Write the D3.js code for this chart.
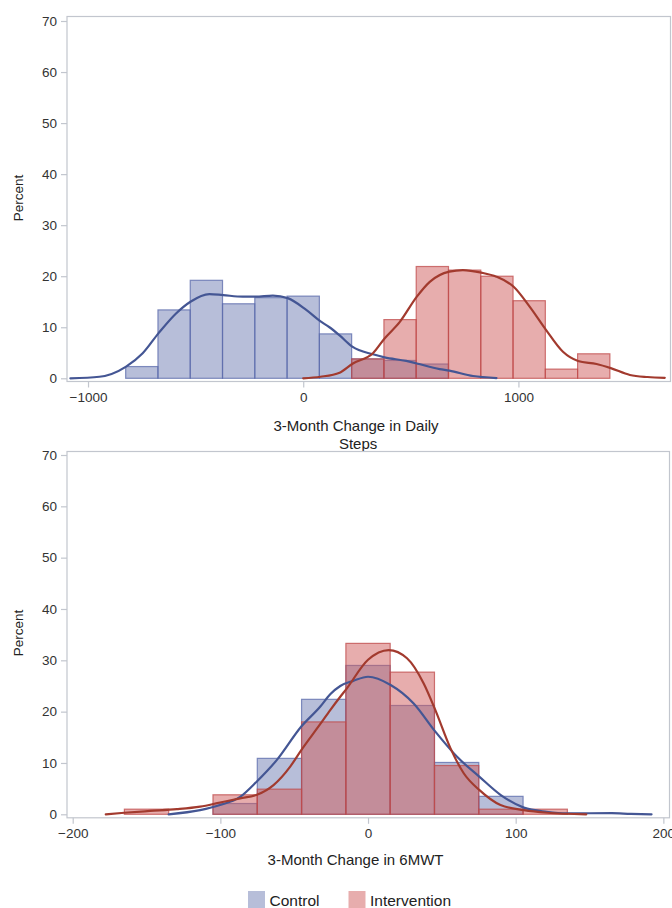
<!DOCTYPE html>
<html><head><meta charset="utf-8">
<script src="https://cdn.jsdelivr.net/npm/d3@7"></script>
<style>
body{margin:0;background:#fff}
svg{display:block;font-family:"Liberation Sans",Arial,sans-serif}
</style>
</head><body>
<svg id="c" width="672" height="908"></svg>
<script>
// ---------- data ----------
const seriesNames = ["Control", "Intervention"];
const yTicks = [0, 10, 20, 30, 40, 50, 60, 70];

// Panel 1: 3-Month Change in Daily Steps
const stepsBinWidth = 150;
const stepsBinCenters = [-750, -600, -450, -300, -150, 0, 150, 300, 450, 600, 750, 900, 1050, 1200, 1350];
const stepsControlPct = [2.3, 13.4, 19.2, 14.6, 15.8, 16.1, 8.7, 3.8, 3.5, 2.8, 0, 0, 0, 0, 0];
const stepsInterventionPct = [0, 0, 0, 0, 0, 0, 0, 3.8, 11.5, 21.9, 21.2, 20.0, 15.2, 1.8, 4.8];
const stepsControlDensity = [[-1082, 0], [-947, 0.3], [-823, 2.3], [-746, 4.9], [-673, 8.8], [-591, 12.7], [-524, 15.0], [-436, 16.5], [-372, 16.3], [-281, 16.0], [-222, 16.0], [-141, 16.2], [-72, 15.7], [14, 13.4], [79, 11.2], [122, 10.0], [169, 8.4], [228, 6.2], [324, 4.7], [378, 4.1], [479, 3.4], [528, 2.9], [634, 1.8], [679, 1.5], [789, 0.45], [898, 0.05]];
const stepsInterventionDensity = [[0, 0], [80, 0.3], [169, 1.1], [231, 2.9], [324, 4.9], [378, 7.8], [448, 11.0], [528, 16.0], [588, 18.9], [679, 20.9], [742, 21.2], [828, 20.7], [898, 19.9], [979, 17.9], [1053, 14.0], [1128, 9.5], [1207, 5.2], [1277, 3.4], [1363, 2.8], [1429, 2.0], [1518, 0.65], [1600, 0.25], [1680, 0.1]];
const stepsXTicks = [-1000, 0, 1000];
const stepsTitle = ["3-Month Change in Daily", " Steps"];

// Panel 2: 3-Month Change in 6MWT
const sixmwtBinWidth = 30;
const sixmwtBinCenters = [-150, -120, -90, -60, -30, 0, 30, 60, 90, 120, 150];
const sixmwtControlPct = [0, 0, 2.1, 10.9, 22.4, 29.0, 21.2, 10.1, 3.5, 0, 0];
const sixmwtInterventionPct = [1.0, 0, 3.8, 4.9, 18.0, 33.3, 27.7, 9.5, 1.0, 1.0, 0];
const sixmwtControlDensity = [[-135, 0], [-113.7, 0.8], [-100.2, 1.8], [-86.6, 3.4], [-75.3, 6.4], [-61.7, 10.6], [-45.2, 17.1], [-32.3, 21.0], [-25.6, 23.4], [-18.8, 25.0], [-10, 26.0], [0, 26.8], [15.3, 25.2], [30.9, 21.6], [45.6, 16.1], [60.3, 11.2], [75.5, 7.3], [89.7, 3.8], [105.5, 1.3], [121, 0.5], [135, 0.2], [150, 0.2], [165, 0.22], [178, 0.08], [192, 0]];
const sixmwtInterventionDensity = [[-177.6, 0], [-165, 0.3], [-147.6, 0.65], [-129.5, 1.0], [-113.7, 1.5], [-100.2, 2.3], [-86.6, 3.1], [-75.3, 3.8], [-64, 5.7], [-52.7, 9.3], [-45.2, 12.5], [-32.3, 17.6], [-25.6, 20.3], [-18.8, 22.9], [-14.7, 24.4], [0, 30.1], [14, 32.0], [26.4, 30.4], [37.7, 25.5], [45.6, 20.3], [55.8, 12.9], [64.8, 8.0], [75.5, 4.7], [89.7, 1.8], [105.5, 0.8], [121.4, 0.3], [147.8, 0]];
const sixmwtXTicks = [-200, -100, 0, 100, 200];
const sixmwtTitle = ["3-Month Change in 6MWT"];

// ---------- styles ----------
const fillColor = {Control: "#6F7EB3", Intervention: "#D05B5B"};
const edgeColor = {Control: "#5a6aab", Intervention: "#bf4a4a"};
const lineColor = {Control: "#445694", Intervention: "#A23A2E"};
const frameColor = "#c2c6ce";
const tickTextColor = "#333";

const svg = d3.select("#c");

function panel(cfg) {
  const g = svg.append("g");
  const x = d3.scaleLinear().domain(cfg.xDomain).range([cfg.left, cfg.right]);
  const y = d3.scaleLinear().domain([0, 70]).range([cfg.y0, cfg.y70]);

  // frame
  g.append("rect").attr("x", cfg.left + 0.5).attr("y", cfg.top + 0.5)
    .attr("width", cfg.right - cfg.left - 1).attr("height", cfg.bottom - cfg.top)
    .attr("fill", "none").attr("stroke", frameColor).attr("stroke-width", 1.2);

  // y axis
  const yAxis = d3.axisLeft(y).tickValues(yTicks).tickSize(6).tickPadding(4).tickFormat(d3.format("d"));
  const ya = g.append("g").attr("transform", `translate(${cfg.left + 0.5},0)`).call(yAxis);
  ya.select(".domain").remove();
  ya.selectAll("line").attr("stroke", frameColor).attr("stroke-width", 1.2);
  ya.selectAll("text").attr("font-size", 13.5).attr("fill", tickTextColor)
    .attr("font-family", '"Liberation Sans",Arial,sans-serif');

  // x axis
  const xAxis = d3.axisBottom(x).tickValues(cfg.xTicks).tickSize(6).tickPadding(5).tickFormat(d3.format("d"));
  const xa = g.append("g").attr("transform", `translate(0,${cfg.bottom + 0.5})`).call(xAxis);
  xa.select(".domain").remove();
  xa.selectAll("line").attr("stroke", frameColor).attr("stroke-width", 1.2);
  xa.selectAll("text").attr("font-size", 13.5).attr("fill", tickTextColor)
    .attr("font-family", '"Liberation Sans",Arial,sans-serif');

  // histograms
  const bw = cfg.binWidth;
  cfg.series.forEach(s => {
    g.append("g").selectAll("rect").data(cfg.centers.map((c, i) => ({c, v: s.pct[i]})))
      .join("rect")
      .attr("x", d => x(d.c - bw / 2))
      .attr("width", d => x(d.c + bw / 2) - x(d.c - bw / 2))
      .attr("y", d => y(d.v))
      .attr("height", d => Math.max(0, y(0) - y(d.v)))
      .attr("fill", fillColor[s.name]).attr("fill-opacity", 0.5)
      .attr("stroke", edgeColor[s.name]).attr("stroke-opacity", 0.75).attr("stroke-width", 1.2);
  });

  // density curves
  const line = d3.line().x(d => x(d[0])).y(d => y(d[1])).curve(d3.curveMonotoneX);
  cfg.series.forEach(s => {
    g.append("path").datum(s.density).attr("d", line)
      .attr("fill", "none").attr("stroke", lineColor[s.name]).attr("stroke-width", 2.2)
      .attr("stroke-linejoin", "round").attr("stroke-linecap", "round");
  });

  // y label
  g.append("text").attr("transform", `translate(${cfg.ylabelX},${cfg.ylabelY}) rotate(-90)`)
    .attr("text-anchor", "middle").attr("dominant-baseline", "central")
    .attr("font-size", 13.5).attr("fill", "#222").text("Percent");

  // x title
  cfg.title.forEach((t, i) => {
    g.append("text").attr("x", cfg.titleX).attr("y", cfg.titleY + i * 18.5)
      .attr("text-anchor", "middle").attr("font-size", 15).attr("fill", "#222")
      .attr("xml:space", "preserve").style("white-space", "pre").text(t);
  });
}

panel({
  left: 66.5, right: 671, top: 16, bottom: 381,
  xDomain: [-1100, 1709], y0: 378.3, y70: 21,
  xTicks: stepsXTicks, binWidth: stepsBinWidth, centers: stepsBinCenters,
  series: [
    {name: "Control", pct: stepsControlPct, density: stepsControlDensity},
    {name: "Intervention", pct: stepsInterventionPct, density: stepsInterventionDensity}
  ],
  ylabelX: 18, ylabelY: 198, title: stepsTitle, titleX: 356, titleY: 430.5
});

panel({
  left: 66.5, right: 670, top: 451, bottom: 817.3,
  xDomain: [-204.2, 204.5], y0: 814.3, y70: 455,
  xTicks: sixmwtXTicks, binWidth: sixmwtBinWidth, centers: sixmwtBinCenters,
  series: [
    {name: "Control", pct: sixmwtControlPct, density: sixmwtControlDensity},
    {name: "Intervention", pct: sixmwtInterventionPct, density: sixmwtInterventionDensity}
  ],
  ylabelX: 18, ylabelY: 633, title: sixmwtTitle, titleX: 355.5, titleY: 864.5
});

// legend
const legendX = [248, 348.5];
const lg = svg.append("g");
seriesNames.forEach((n, i) => {
  lg.append("rect").attr("x", legendX[i]).attr("y", 891).attr("width", 17).attr("height", 17)
    .attr("fill", fillColor[n]).attr("fill-opacity", 0.5);
  lg.append("text").attr("x", legendX[i] + 21.5).attr("y", 905.5)
    .attr("font-size", 15.5).attr("fill", "#222").text(n);
});
</script>
</body></html>
